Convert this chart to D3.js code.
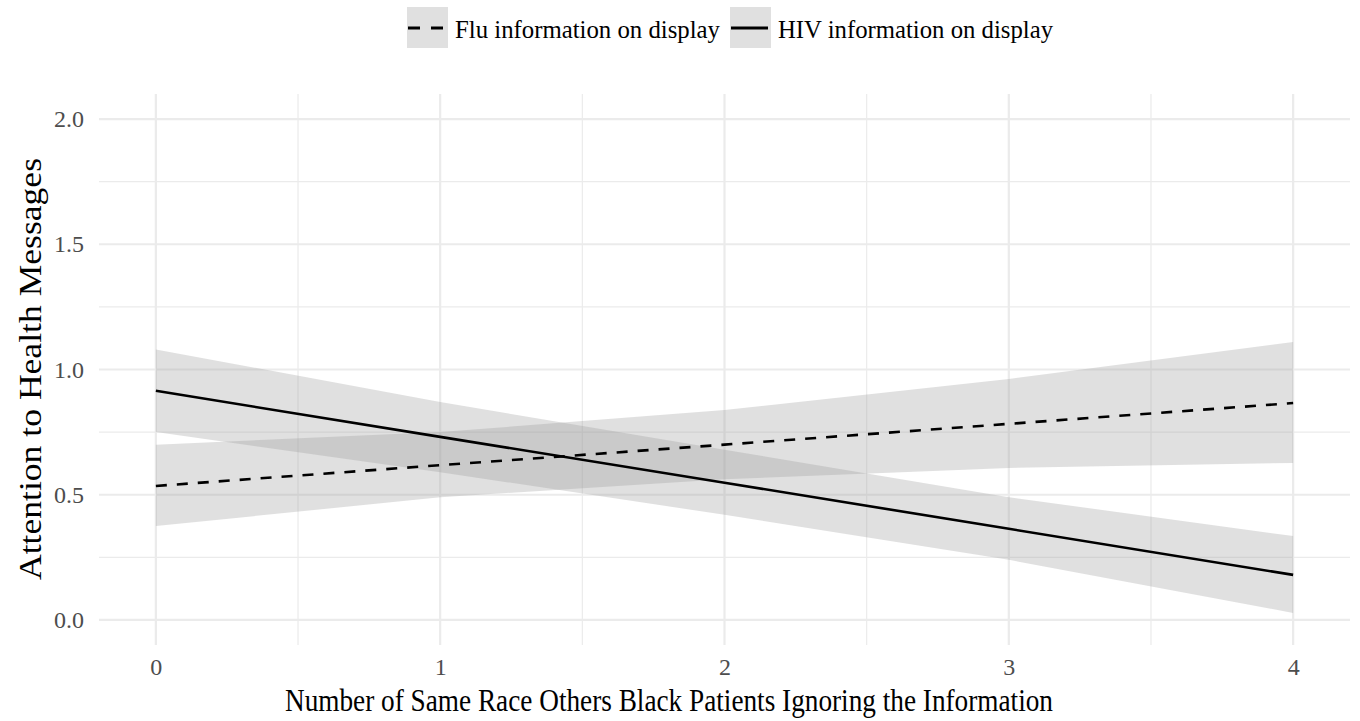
<!DOCTYPE html>
<html><head><meta charset="utf-8">
<script src="https://cdn.jsdelivr.net/npm/d3@7"></script>
<style>body{margin:0;background:#fff}svg{display:block}text{font-family:"Liberation Serif","Times New Roman",serif}</style>
</head><body>
<svg id="chart" width="1360" height="721"></svg>
<script>
const xValues = [0, 1, 2, 3, 4];
const fluFit   = [0.535, 0.618, 0.700, 0.783, 0.866];
const fluLower = [0.375, 0.490, 0.562, 0.607, 0.627];
const fluUpper = [0.700, 0.750, 0.838, 0.962, 1.110];
const hivFit   = [0.915, 0.731, 0.548, 0.364, 0.180];
const hivLower = [0.750, 0.590, 0.420, 0.240, 0.028];
const hivUpper = [1.080, 0.870, 0.680, 0.490, 0.335];
const xTicks = [0, 1, 2, 3, 4];
const yTicks = [0, 0.5, 1.0, 1.5, 2.0];
const seriesNames = ["Flu information on display", "HIV information on display"];

const svg = d3.select("#chart");
const x = d3.scaleLinear().domain([-0.2, 4.2]).range([99, 1350]);
const y = d3.scaleLinear().domain([-0.1, 2.1]).range([645, 94]);

const g = svg.append("g");
const xMinor = [0.5, 1.5, 2.5, 3.5];
const yMinor = [0.25, 0.75, 1.25, 1.75];
g.selectAll(".vminor").data(xMinor).enter().append("line")
  .attr("x1", d => x(d)).attr("x2", d => x(d)).attr("y1", 94).attr("y2", 645)
  .attr("stroke", "#ebebeb").attr("stroke-width", 1.2);
g.selectAll(".hminor").data(yMinor).enter().append("line")
  .attr("y1", d => y(d)).attr("y2", d => y(d)).attr("x1", 99).attr("x2", 1350)
  .attr("stroke", "#ebebeb").attr("stroke-width", 1.2);
g.selectAll(".vmajor").data(xTicks).enter().append("line")
  .attr("x1", d => x(d)).attr("x2", d => x(d)).attr("y1", 94).attr("y2", 645)
  .attr("stroke", "#ebebeb").attr("stroke-width", 2.2);
g.selectAll(".hmajor").data(yTicks).enter().append("line")
  .attr("y1", d => y(d)).attr("y2", d => y(d)).attr("x1", 99).attr("x2", 1350)
  .attr("stroke", "#ebebeb").attr("stroke-width", 2.2);

function mk(fit, lo, hi) { return xValues.map((v, i) => ({x: v, fit: fit[i], lo: lo[i], hi: hi[i]})); }
const series = [
  {name: seriesNames[0], data: mk(fluFit, fluLower, fluUpper), dash: "11,10"},
  {name: seriesNames[1], data: mk(hivFit, hivLower, hivUpper), dash: null}
];
const area = d3.area().x(d => x(d.x)).y0(d => y(d.lo)).y1(d => y(d.hi));
const line = d3.line().x(d => x(d.x)).y(d => y(d.fit));
series.forEach(s => {
  g.append("path").attr("d", area(s.data)).attr("fill", "#999999").attr("fill-opacity", 0.3);
});
series.forEach(s => {
  g.append("path").attr("d", line(s.data)).attr("fill", "none").attr("stroke", "#000")
    .attr("stroke-width", 2.6).attr("stroke-dasharray", s.dash);
});

const xAxis = d3.axisBottom(x).tickValues(xTicks).tickSize(0).tickFormat(d3.format("d"));
const xa = svg.append("g").attr("transform", "translate(0,655)").call(xAxis);
xa.select(".domain").remove();
xa.selectAll("text").attr("font-size", 24).attr("fill", "#4d4d4d").attr("dy", "0.71em");
const yAxis = d3.axisLeft(y).tickValues(yTicks).tickSize(0).tickFormat(d3.format(".1f"));
const ya = svg.append("g").attr("transform", "translate(87,0)").call(yAxis);
ya.select(".domain").remove();
ya.selectAll("text").attr("font-size", 24).attr("fill", "#4d4d4d");

svg.append("text").attr("x", 669).attr("y", 711).attr("text-anchor", "middle")
  .attr("font-size", 31).attr("textLength", 768).attr("lengthAdjust", "spacingAndGlyphs")
  .text("Number of Same Race Others Black Patients Ignoring the Information");
svg.append("text").attr("transform", "translate(41,369) rotate(-90)").attr("text-anchor", "middle")
  .attr("font-size", 31).attr("textLength", 422).attr("lengthAdjust", "spacingAndGlyphs")
  .text("Attention to Health Messages");

const leg = svg.append("g");
const legItems = [{s: series[0], bx: 407, tx: 455}, {s: series[1], bx: 730, tx: 778}];
legItems.forEach(it => {
  leg.append("rect").attr("x", it.bx).attr("y", 7).attr("width", 41).attr("height", 41).attr("fill", "#999").attr("fill-opacity", 0.3);
  leg.append("line").attr("x1", it.bx + 1).attr("x2", it.bx + 38).attr("y1", 28).attr("y2", 28)
    .attr("stroke", "#000").attr("stroke-width", 3).attr("stroke-dasharray", it.s.dash ? "12,11" : null);
  leg.append("text").attr("x", it.tx).attr("y", 38).attr("font-size", 25)
    .attr("textLength", it.s === series[0] ? 265 : 275).attr("lengthAdjust", "spacingAndGlyphs").text(it.s.name);
});
</script>
</body></html>
